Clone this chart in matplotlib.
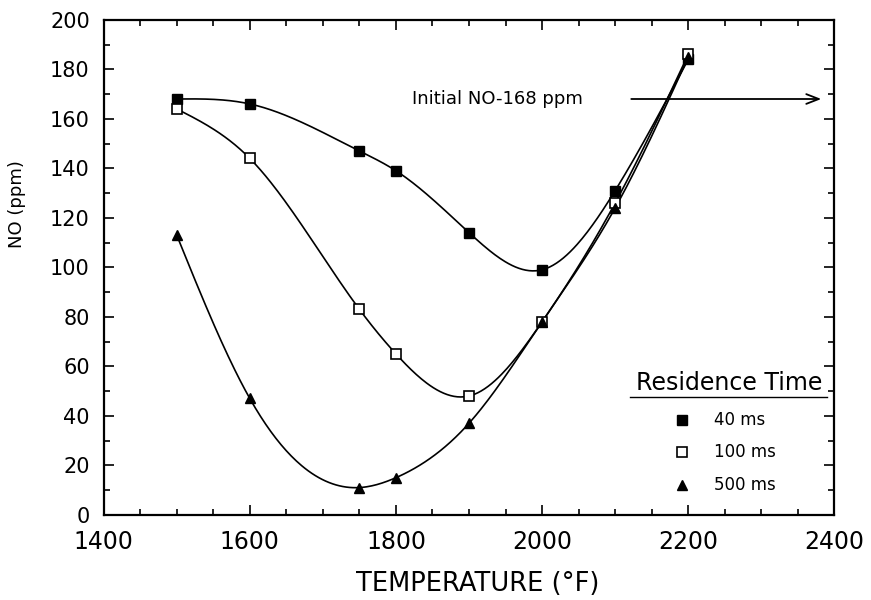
import numpy as np
import matplotlib
matplotlib.use("Agg")
import matplotlib.pyplot as plt
from matplotlib.ticker import MultipleLocator

plt.rcParams['font.family'] = ['DejaVu Sans']

temps = [1500, 1600, 1750, 1800, 1900, 2000, 2100, 2200]
no_40ms = [168, 166, 147, 139, 114, 99, 131, 184]
no_100ms = [164, 144, 83, 65, 48, 78, 126, 186]
no_500ms = [113, 47, 11, 15, 37, 78, 124, 185]
series_labels = ['40 ms', '100 ms', '500 ms']
legend_title = 'Residence Time'
annotation_text = 'Initial NO-168 ppm'
initial_no = 168


def natural_spline(x, y, n=300):
    x = np.asarray(x, float)
    y = np.asarray(y, float)
    k = len(x)
    h = np.diff(x)
    A = np.zeros((k, k))
    b = np.zeros(k)
    A[0, 0] = 1
    A[-1, -1] = 1
    for i in range(1, k - 1):
        A[i, i - 1] = h[i - 1]
        A[i, i] = 2 * (h[i - 1] + h[i])
        A[i, i + 1] = h[i]
        b[i] = 3 * ((y[i + 1] - y[i]) / h[i] - (y[i] - y[i - 1]) / h[i - 1])
    c = np.linalg.solve(A, b)
    xs = np.linspace(x[0], x[-1], n)
    ys = np.empty_like(xs)
    for j, xv in enumerate(xs):
        i = min(np.searchsorted(x, xv, side='right') - 1, k - 2)
        dx = xv - x[i]
        bi = (y[i + 1] - y[i]) / h[i] - h[i] * (c[i + 1] + 2 * c[i]) / 3
        di = (c[i + 1] - c[i]) / (3 * h[i])
        ys[j] = y[i] + bi * dx + c[i] * dx ** 2 + di * dx ** 3
    return xs, ys


fig = plt.figure(figsize=(8.71, 6.0), dpi=100)
ax = fig.add_axes([0.119, 0.142, 0.839, 0.825])

styles = [
    dict(marker='s', mfc='black', mec='black', ms=6.5),
    dict(marker='s', mfc='white', mec='black', ms=6.5, mew=1.2),
    dict(marker='^', mfc='black', mec='black', ms=6.5),
]
for ys, st in zip([no_40ms, no_100ms, no_500ms], styles):
    sx, sy = natural_spline(temps, ys)
    ax.plot(sx, sy, color='black', lw=1.2, zorder=2)
    ax.plot(temps, ys, ls='none', zorder=3, **st)

ax.set_xlim(1400, 2400)
ax.set_ylim(0, 200)
ax.xaxis.set_major_locator(MultipleLocator(200))
ax.xaxis.set_minor_locator(MultipleLocator(50))
ax.yaxis.set_major_locator(MultipleLocator(20))
ax.yaxis.set_minor_locator(MultipleLocator(10))
ax.tick_params(which='both', direction='in', top=True, right=True, width=1.2)
ax.tick_params(which='major', length=7)
ax.tick_params(which='minor', length=4)
ax.tick_params(axis='x', pad=11, labelsize=17)
ax.tick_params(axis='y', pad=10, labelsize=15)
for s in ax.spines.values():
    s.set_linewidth(1.6)

ax.set_xlabel('TEMPERATURE (°F)', fontsize=18.5, labelpad=12)
ax.xaxis.label.set_x(0.512)
fig.text(0.02, 0.66, 'NO (ppm)', rotation=90, fontsize=13, ha='center', va='center')

ax.annotate('', xy=(2382, initial_no), xytext=(2122, initial_no),
            arrowprops=dict(arrowstyle='->,head_length=0.9,head_width=0.35',
                            color='black', lw=1.3, shrinkA=0, shrinkB=0))
ax.text(1822, initial_no, annotation_text, fontsize=13, ha='left', va='center')

ax.text(0.856, 0.267, legend_title, transform=ax.transAxes, fontsize=17,
        ha='center', va='center')
ax.plot([0.72, 0.99], [0.237, 0.237], transform=ax.transAxes, color='black', lw=1.0,
        clip_on=False)
legend_rows = [0.192, 0.127, 0.061]
for st, lab, yr in zip(styles, series_labels, legend_rows):
    ax.plot([0.791], [yr], transform=ax.transAxes, ls='none', clip_on=False, **st)
    ax.text(0.835, yr, lab, transform=ax.transAxes, fontsize=12, ha='left', va='center')

fig.savefig('out.png', dpi=100)
